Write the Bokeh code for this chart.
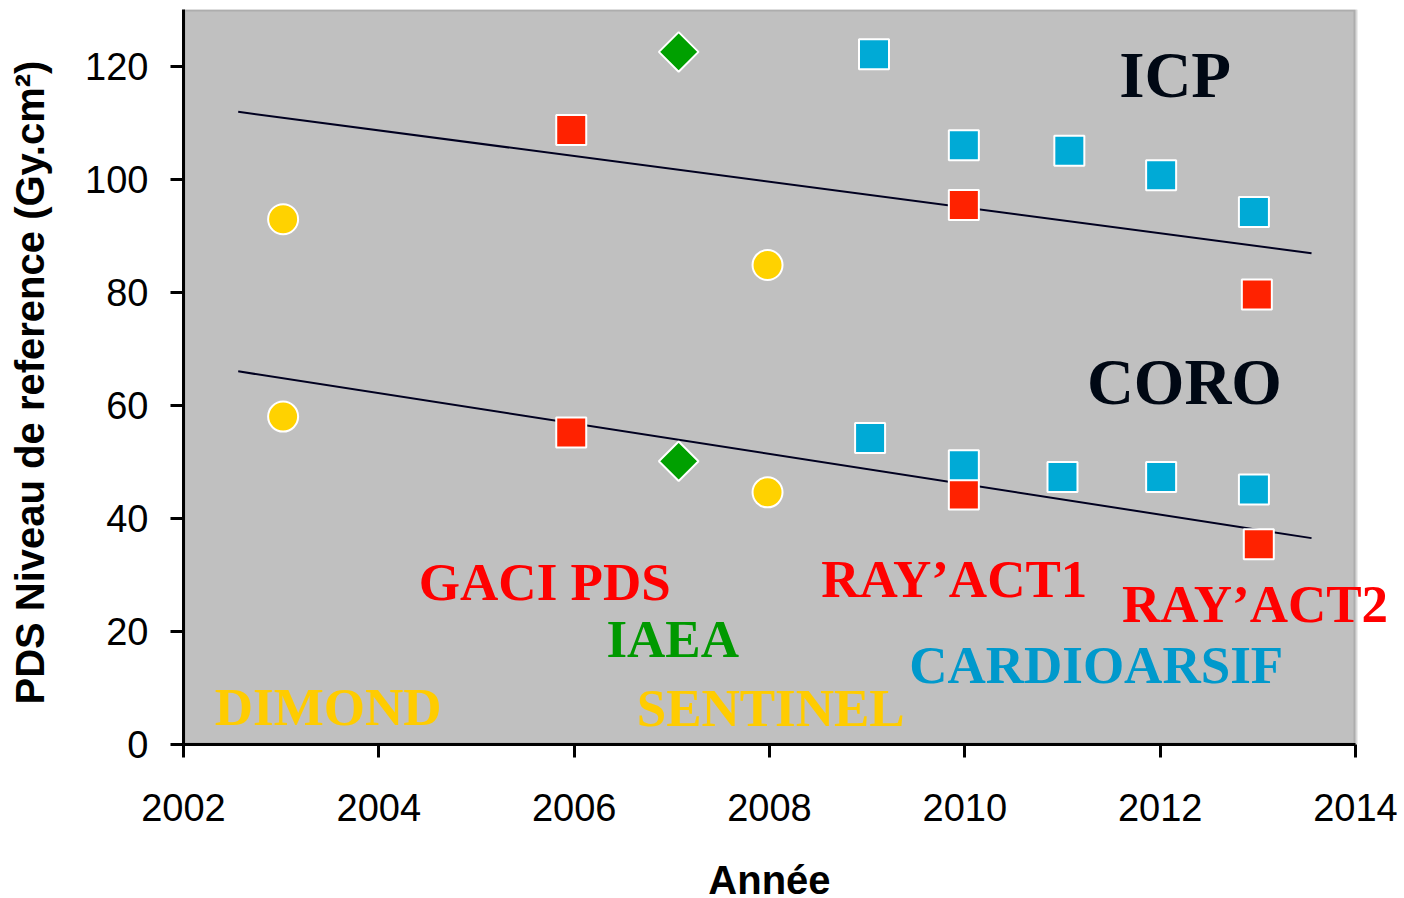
import math
from bokeh.plotting import figure
from bokeh.models import Range1d, FixedTicker, Label, BoxAnnotation
from bokeh.embed import file_html
from bokeh.resources import INLINE

# ---- data ----
dimond_x = [2003.02, 2003.02]
dimond_y = [92.9, 58.0]
sentinel_x = [2007.98, 2007.98]
sentinel_y = [84.8, 44.6]
gaci_x = [2005.97, 2005.97]
gaci_y = [108.7, 55.2]
rayact1_x = [2009.99, 2009.99]
rayact1_y = [95.4, 44.2]
rayact2_x = [2012.99, 2013.01]
rayact2_y = [79.6, 35.4]
iaea_x = [2007.07, 2007.07]
iaea_y = [122.5, 50.1]
cardio_x = [2009.07, 2009.99, 2011.07, 2012.01, 2012.96,
            2009.03, 2009.99, 2011.00, 2012.01, 2012.96]
cardio_y = [122.1, 106.0, 105.0, 100.7, 94.2,
            54.2, 49.4, 47.3, 47.3, 45.1]
trend_x = [2002.56, 2013.55]
icp_trend = [111.9, 86.9]
coro_trend = [66.0, 36.5]

x_ticks = [2002, 2004, 2006, 2008, 2010, 2012, 2014]
y_ticks = [0, 20, 40, 60, 80, 100, 120]

# label texts and anchor (data coords, left edge)
label_text = ["ICP", "CORO", "GACI PDS", "IAEA", "DIMOND", "SENTINEL",
              "RAY\u2019ACT1", "RAY\u2019ACT2", "CARDIOARSIF"]
label_x = [2011.58, 2011.25, 2004.41, 2006.33, 2002.32, 2006.64,
           2008.53, 2011.61, 2009.43]
label_y = [118.4, 64.1, 28.8, 18.6, 6.7, 6.5, 29.2, 24.8, 14.1]
label_color = ["#000814", "#000814", "#FF0000", "#009900", "#FFCC00",
               "#FFCC00", "#FF0000", "#FF0000", "#0099CC"]
label_size = ["65px", "65px", "53px", "53px", "53px", "53px", "53px",
              "53px", "53px"]

X_MIN, X_MAX = 2002, 2014

# ---- figure ----
p = figure(width=1400, height=898, output_backend="svg", toolbar_location=None,
           x_range=Range1d(X_MIN, X_MAX + 0.379), y_range=Range1d(0, 130),
           min_border_left=183, min_border_right=8, min_border_top=9,
           min_border_bottom=154)

p.background_fill_color = "white"
p.border_fill_color = "white"
p.outline_line_color = None
p.xgrid.visible = False
p.ygrid.visible = False

# gray plot area up to 2014 with gray top/right border
p.add_layout(BoxAnnotation(right=X_MAX, fill_color="#C0C0C0", fill_alpha=1.0,
                           line_color="#808080", line_width=4, level="underlay"))

for ax in (p.xaxis[0], p.yaxis[0]):
    ax.axis_line_color = "black"
    ax.axis_line_width = 3
    ax.major_tick_line_color = "black"
    ax.major_tick_line_width = 3
    ax.major_tick_out = 13
    ax.major_tick_in = 0
    ax.minor_tick_line_color = None
    ax.major_label_text_font = "Liberation Sans"
    ax.major_label_text_font_size = "38px"
    ax.major_label_text_color = "black"
    ax.axis_label_text_font = "Liberation Sans"
    ax.axis_label_text_font_style = "bold"
    ax.axis_label_text_font_size = "40px"
    ax.axis_label_text_color = "black"

p.xaxis.bounds = (X_MIN, X_MAX)
p.xaxis.ticker = FixedTicker(ticks=x_ticks)
p.yaxis.ticker = FixedTicker(ticks=y_ticks)
p.yaxis.axis_label = "PDS Niveau de reference  (Gy.cm\u00b2)"
p.xaxis.major_label_standoff = 36
p.yaxis.major_label_standoff = 22
p.yaxis.axis_label_standoff = 30

# x-axis title, centred under the 2002-2014 span, in the bottom panel
p.add_layout(Label(x=(X_MIN + X_MAX) / 2, y=-24.0, text="Ann\u00e9e",
                   text_font="Liberation Sans", text_font_style="bold",
                   text_font_size="40px", text_color="black",
                   text_align="center", text_baseline="alphabetic"), "below")

# trend lines
p.line(trend_x, icp_trend, line_color="#000020", line_width=2)
p.line(trend_x, coro_trend, line_color="#000020", line_width=2)

# markers
p.scatter(dimond_x, dimond_y, marker="circle", size=30,
          fill_color="#FFD200", line_color="white", line_width=2)
p.scatter(sentinel_x, sentinel_y, marker="circle", size=30,
          fill_color="#FFD200", line_color="white", line_width=2)
p.scatter(gaci_x, gaci_y, marker="square", size=30,
          fill_color="#FF2200", line_color="white", line_width=2)
p.scatter(rayact1_x, rayact1_y, marker="square", size=30,
          fill_color="#FF2200", line_color="white", line_width=2)
p.scatter(rayact2_x, rayact2_y, marker="square", size=30,
          fill_color="#FF2200", line_color="white", line_width=2)
p.scatter(cardio_x, cardio_y, marker="square", size=30,
          fill_color="#00AAD6", line_color="white", line_width=2)
p.scatter(iaea_x, iaea_y, marker="square", size=28, angle=math.pi / 4,
          fill_color="#00A000", line_color="white", line_width=2)

for t, x, y, c, s in zip(label_text, label_x, label_y, label_color, label_size):
    p.add_layout(Label(x=x, y=y, text=t, text_color=c, text_font_size=s,
                       text_font="Liberation Serif", text_font_style="bold",
                       text_align="left", text_baseline="alphabetic"))

open("out.html", "w").write(file_html(p, INLINE))
